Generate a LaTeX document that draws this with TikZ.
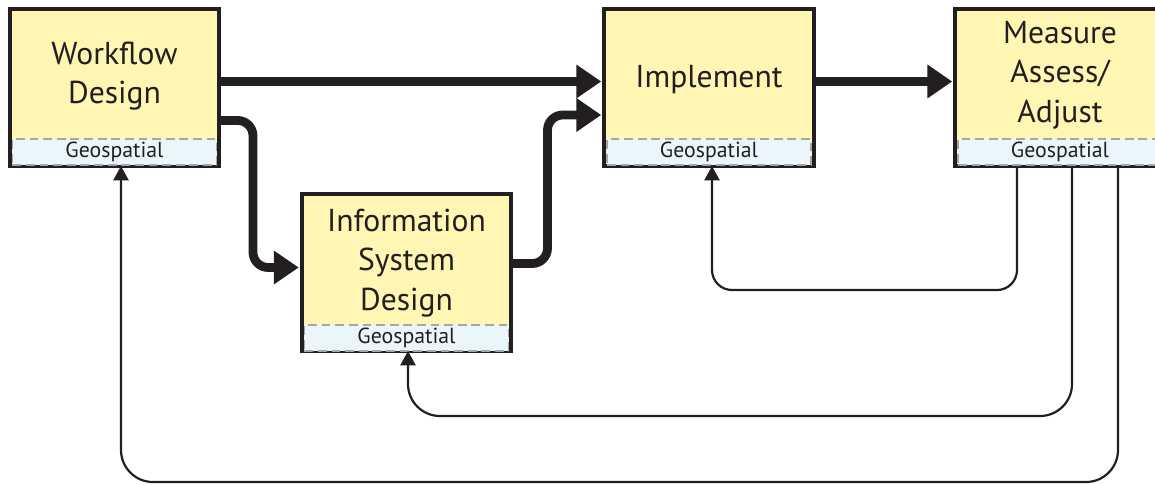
\documentclass[tikz,border=0pt]{standalone}
\usepackage{fontspec}
\setmainfont{PT Sans}
\usetikzlibrary{calc}
\usetikzlibrary{arrows.meta}
\definecolor{ink}{HTML}{231F20}
\definecolor{pad}{HTML}{FFF6B3}
\definecolor{geofill}{HTML}{EAF6FC}
\tikzstyle{stage} = [rectangle, minimum width=5.225cm, minimum height=3.925cm, inner sep=0pt, outer sep=0pt, draw=ink, line width=0.1cm, fill=pad]
\tikzstyle{title} = [align=center, text=ink, font=\fontsize{22.5}{28}\selectfont]
\tikzstyle{geo} = [rectangle, minimum width=5.1cm, minimum height=0.65cm, inner sep=0pt, draw=gray!70, line width=0.04cm, dash pattern=on 0.22cm off 0.12cm, fill=geofill, text=ink, font=\fontsize{15.5}{15.5}\selectfont]
\tikzstyle{flow} = [ink, line width=0.22cm, -{Triangle[length=0.62cm,width=0.8cm]}, rounded corners=0.38cm, shorten >=0.08cm]
\tikzstyle{back} = [ink, line width=0.055cm, -{Triangle[length=0.36cm,width=0.38cm]}]

\begin{document}
\begin{tikzpicture}[x=0.025cm, y=-0.025cm]
	\useasboundingbox (0,0) rectangle (1155,485);
	\node (wd) at (114.5,87.5) [stage] {};
	\node (wdgeo) at (114.5,152) [geo] {Geospatial};
	\node (wdtext) at (114.5,76) [title] {Workflow\\Design};
	\node (isd) at (406.5,272.5) [stage] {};
	\node (isdgeo) at (406.5,338) [geo] {Geospatial};
	\node (isdtext) at (406.5,263) [title] {Information\\System\\Design};
	\node (imp) at (709,87.5) [stage] {};
	\node (impgeo) at (709,152) [geo] {Geospatial};
	\node (imptext) at (709,80) [title] {Implement};
	\node (mas) at (1060,87.5) [stage] {};
	\node (masgeo) at (1060,152) [geo] {Geospatial};
	\node (mastext) at (1060,75) [title] {Measure\\Assess/\\Adjust};
	\draw[flow] ($(wd.east)+(0,-6)$) -- ($(imp.west)+(0,-6)$);
	\draw[flow] ($(imp.east)+(0,-6)$) -- ($(mas.west)+(0,-6)$);
	\draw[flow] ($(wd.east)+(0,33)$) -| ($(isd.west)+(-49,-5)$) -- ($(isd.west)+(0,-5)$);
	\draw[flow] ($(isd.east)+(0,-9)$) -| ($(imp.west)+(-57,27.5)$) -- ($(imp.west)+(0,27.5)$);
	\draw[back, rounded corners=0.5cm] ($(mas.south)+(-43,0)$) |- ($(imp.south)+(3,124)$) -- ($(imp.south)+(3,0)$);
	\draw[back, rounded corners=0.8cm] ($(mas.south)+(12,0)$) |- ($(isd.south)+(1.5,65)$) -- ($(isd.south)+(1.5,0)$);
	\draw[back, rounded corners=0.8cm] ($(mas.south)+(58,0)$) |- ($(wd.south)+(6.5,316)$) -- ($(wd.south)+(6.5,0)$);
\end{tikzpicture}
\end{document}
